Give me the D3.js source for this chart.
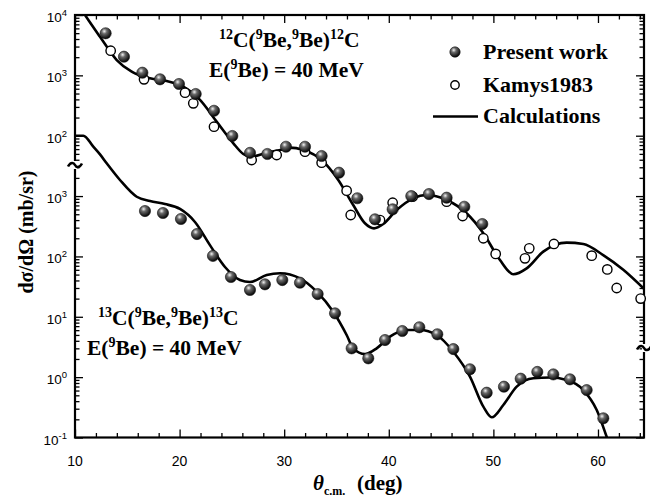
<!DOCTYPE html>
<html><head><meta charset="utf-8">
<script src="https://cdn.jsdelivr.net/npm/d3@7"></script>
<style>
body{margin:0;background:#fff;}
svg text{fill:#000;}
.serif{font-family:"Liberation Serif","Times New Roman",serif;font-weight:bold;}
.sans{font-family:"Liberation Sans",Arial,sans-serif;}
</style></head>
<body>
<svg id="chart" width="650" height="501"></svg>
<script>
// ---------- data ----------
// upper panel: 12C(9Be,9Be)12C, real mb/sr values; plotted shifted by upperOffset
const upperOffset = 100;
const upperPresentX = [12.93,14.68,16.44,18.13,19.94,21.54,23.29,25.04,26.73,28.39,30.17,31.99,33.58,35.24,36.99,38.68,40.37,42.15,43.84,45.53,47.22,48.94];
const upperPresentY = [4977,2037,1106,860,719,491,259,99,52,49.8,65.7,65.7,46.1,24.4,9.2,4.12,6.03,10.0,10.8,9.4,6.66,3.44];
const upperKamysX = [13.41,16.6,20.52,21.31,23.29,26.89,29.28,31.99,33.58,35.97,36.36,39.16,40.37,42.28,45.53,47.06,49.04,50.22,53.02,53.43,55.79,59.4,60.89,61.79,64.08];
const upperKamysY = [2560,860,516,344,141,39.6,47.9,54.3,35.7,12.3,4.86,4.0,7.76,9.77,8.07,4.67,2.0,1.10,0.93,1.36,1.61,1.03,0.61,0.30,0.20];
const upperCalcX = [10.5,10.96,12.39,13.99,15.42,17.17,18.77,20.35,21.95,23.54,25.14,26.09,26.73,28.33,29.91,30.5,31.83,33.58,35.17,36.6,37.72,38.59,39.47,40.75,42.34,43.62,45.53,47.44,49.04,50.63,51.9,53.18,54.77,57.0,58.6,60.5,62.42,64.4];
const upperCalcY = [13300,10000,4365,1795,1150,893,805,648,391,171,74.8,49.8,44.9,52.3,59.5,63.5,58,39.6,18.5,7.1,3.54,2.92,3.44,5.87,9.18,10.4,8.6,5.18,2.42,0.87,0.506,0.635,1.2,1.69,1.61,1.05,0.6,0.29];
// lower panel: 13C(9Be,9Be)13C
const lowerPresentX = [16.69,18.41,20.13,21.66,23.19,24.91,26.73,28.16,29.82,31.51,33.2,34.86,36.45,38.04,39.64,41.29,42.92,44.64,46.17,47.76,49.36,51.01,52.61,54.2,55.73,57.32,58.92,60.51];
const lowerPresentY = [565,524,417,235,102,45.6,27.8,34.5,40.6,36.7,23.8,11.4,3.0,2.05,4.12,5.81,6.7,5.13,2.92,1.35,0.552,0.695,0.942,1.22,1.11,0.92,0.61,0.208];
const lowerCalcX = [10,10.8,11.75,12.39,13.03,14.3,15.9,17.17,18.6,20.04,21.47,22.9,24.34,25.77,26.73,28.33,29.6,31.51,33.11,34.69,35.97,36.6,37.72,38.84,40.11,41.71,42.98,44.58,46.17,47.76,49.04,49.84,50.95,52.23,53.82,55.41,57.01,58.6,59.88,60.83,61.3];
const lowerCalcY = [10000,10000,6580,4900,3490,1845,975,828,738,611,372,154,66.8,40.6,37.7,49.2,52.5,43.4,26.1,12.1,4.99,3.0,2.41,3.0,4.68,6.04,6.04,4.99,2.64,1.02,0.324,0.216,0.345,0.695,0.957,0.984,0.897,0.612,0.286,0.103,0.06];

const xMajorTicks = [10,20,30,40,50,60];
const yTickValues = [0.1,1,10,100,1000,1e4,1e5,1e6];
const yTickExp = ["-1","0","1","2","3","2","3","4"];
const legendLabels = ["Present work","Kamys1983","Calculations"];

// ---------- layout ----------
const svg = d3.select("#chart");
const L = 75, R = 644, T = 15, B = 437.5;
const x = d3.scaleLinear().domain([10,64.4]).range([L,R]);
const y = d3.scaleLog().domain([0.1,1e6]).range([B,T]);

const defs = svg.append("defs");
const grad = defs.append("radialGradient").attr("id","sph").attr("cx","38%").attr("cy","32%").attr("r","65%");
grad.append("stop").attr("offset","0%").attr("stop-color","#f2f2f2");
grad.append("stop").attr("offset","35%").attr("stop-color","#6a6a6a");
grad.append("stop").attr("offset","100%").attr("stop-color","#0a0a0a");
defs.append("clipPath").attr("id","clip").append("rect").attr("x",L).attr("y",T).attr("width",R-L).attr("height",B-T);

// ticks
const minorX = d3.range(10,65,2).filter(v=>!xMajorTicks.includes(v));
const yMinor = [];
for (let e=-1;e<6;e++) for (let k=2;k<=9;k++) yMinor.push(k*Math.pow(10,e));

const axB = d3.axisBottom(x).tickValues(xMajorTicks).tickSizeInner(-8).tickSizeOuter(0).tickFormat("");
const axBm = d3.axisBottom(x).tickValues(minorX).tickSizeInner(-4.5).tickSizeOuter(0).tickFormat("");
const axT = d3.axisTop(x).tickValues(xMajorTicks).tickSizeInner(-8).tickSizeOuter(0).tickFormat("");
const axTm = d3.axisTop(x).tickValues(minorX).tickSizeInner(-4.5).tickSizeOuter(0).tickFormat("");
const axL = d3.axisLeft(y).tickValues(yTickValues).tickSizeInner(-8).tickSizeOuter(0).tickFormat("");
const axLm = d3.axisLeft(y).tickValues(yMinor).tickSizeInner(-4.5).tickSizeOuter(0).tickFormat("");
const axR = d3.axisRight(y).tickValues(yTickValues).tickSizeInner(-8).tickSizeOuter(0).tickFormat("");
const axRm = d3.axisRight(y).tickValues(yMinor).tickSizeInner(-4.5).tickSizeOuter(0).tickFormat("");

function addAxis(ax, tx, ty){
  const g = svg.append("g").attr("transform",`translate(${tx},${ty})`).call(ax);
  g.selectAll("path.domain").remove();
  g.selectAll("line").attr("stroke","#000").attr("stroke-width",1.3);
  return g;
}
addAxis(axB,0,B); addAxis(axBm,0,B);
addAxis(axT,0,T); addAxis(axTm,0,T);
addAxis(axL,L,0); addAxis(axLm,L,0);
addAxis(axR,R,0); addAxis(axRm,R,0);

// frame
svg.append("rect").attr("x",L).attr("y",T).attr("width",R-L).attr("height",B-T)
  .attr("fill","none").attr("stroke","#000").attr("stroke-width",2.2);

// axis break marks
function brk(cx, cy){
  svg.append("rect").attr("x",cx-2).attr("y",cy-4).attr("width",4).attr("height",8).attr("fill","#fff");
  svg.append("path").attr("d",`M${cx-7},${cy+1.5} C${cx-4},${cy-4} ${cx-1},${cy-2} ${cx},${cy} S${cx+4},${cy+4} ${cx+7},${cy-1.5}`)
    .attr("fill","none").attr("stroke","#000").attr("stroke-width",2.6);
}
brk(L,165);
brk(R,348);

// x tick labels
svg.append("g").selectAll("text").data(xMajorTicks).join("text")
  .attr("class","sans").attr("x",d=>x(d)).attr("y",B+28).attr("text-anchor","middle")
  .attr("font-size",14).text(d=>d);

// y tick labels
const yl = svg.append("g").selectAll("text").data(yTickValues).join("text")
  .attr("class","sans").attr("x",L-8).attr("y",d=>y(d)+7).attr("text-anchor","end").attr("font-size",13.5);
yl.each(function(d,i){
  const t = d3.select(this);
  t.append("tspan").text("10");
  t.append("tspan").attr("dy",-6).attr("font-size",9.5).text(yTickExp[i]);
});

// axis titles
const yt = svg.append("text").attr("class","serif").attr("font-size",20)
  .attr("transform","translate(33,232) rotate(-90)").attr("text-anchor","middle");
yt.text("dσ/dΩ  (mb/sr)");

const xt = svg.append("text").attr("class","serif").attr("font-size",21).attr("x",313).attr("y",490);
xt.append("tspan").attr("font-style","italic").text("θ");
xt.append("tspan").attr("font-size",12).attr("dy",5).text("c.m.");
xt.append("tspan").attr("x",357).attr("dy",-5).text("(deg)");

// annotations
function reaction(xp, yp, mass){
  const t = svg.append("text").attr("class","serif").attr("font-size",21.5).attr("x",xp).attr("y",yp);
  t.append("tspan").attr("font-size",14).attr("dy",-8).text(mass);
  t.append("tspan").attr("dy",8).text("C(");
  t.append("tspan").attr("font-size",14).attr("dy",-8).text("9");
  t.append("tspan").attr("dy",8).text("Be,");
  t.append("tspan").attr("font-size",14).attr("dy",-8).text("9");
  t.append("tspan").attr("dy",8).text("Be)");
  t.append("tspan").attr("font-size",14).attr("dy",-8).text(mass);
  t.append("tspan").attr("dy",8).text("C");
}
function energy(xp, yp){
  const t = svg.append("text").attr("class","serif").attr("font-size",21.5).attr("x",xp).attr("y",yp);
  t.append("tspan").text("E(");
  t.append("tspan").attr("font-size",14).attr("dy",-8).text("9");
  t.append("tspan").attr("dy",8).text("Be) = 40 MeV");
}
reaction(219,47,"12"); energy(209,77);
reaction(98,325,"13"); energy(87,355);

// curves
const line = (xs, ys, f) => d3.line().x((d,i)=>x(xs[i])).y((d,i)=>y(ys[i]*f)).curve(d3.curveMonotoneX)(xs);
const plot = svg.append("g").attr("clip-path","url(#clip)");
plot.append("path").attr("d",line(upperCalcX,upperCalcY,upperOffset)).attr("fill","none").attr("stroke","#000").attr("stroke-width",2.6);
plot.append("path").attr("d",line(lowerCalcX,lowerCalcY,1)).attr("fill","none").attr("stroke","#000").attr("stroke-width",2.6);

// points
const pts = svg.append("g");
pts.selectAll("circle.ko").data(upperKamysX).join("circle")
  .attr("cx",d=>x(d)).attr("cy",(d,i)=>y(upperKamysY[i]*upperOffset)).attr("r",4.7)
  .attr("fill","#fff").attr("stroke","#000").attr("stroke-width",1.4);
pts.selectAll("circle.up").data(upperPresentX).join("circle")
  .attr("cx",d=>x(d)).attr("cy",(d,i)=>y(upperPresentY[i]*upperOffset)).attr("r",5.6)
  .attr("fill","url(#sph)").attr("stroke","#111").attr("stroke-width",0.6);
pts.selectAll("circle.lp").data(lowerPresentX).join("circle")
  .attr("cx",d=>x(d)).attr("cy",(d,i)=>y(lowerPresentY[i])).attr("r",5.6)
  .attr("fill","url(#sph)").attr("stroke","#111").attr("stroke-width",0.6);

// legend
const lg = svg.append("g");
lg.append("circle").attr("cx",455).attr("cy",52).attr("r",5.2).attr("fill","url(#sph)").attr("stroke","#111").attr("stroke-width",0.6);
lg.append("circle").attr("cx",455).attr("cy",85).attr("r",4.2).attr("fill","#fff").attr("stroke","#000").attr("stroke-width",1.4);
lg.append("line").attr("x1",433).attr("x2",478).attr("y1",116.5).attr("y2",116.5).attr("stroke","#000").attr("stroke-width",2.6);
lg.selectAll("text").data(legendLabels).join("text").attr("class","serif").attr("font-size",22)
  .attr("x",483).attr("y",(d,i)=>[58.5,92,122.5][i]).text(d=>d);
</script>
</body></html>
